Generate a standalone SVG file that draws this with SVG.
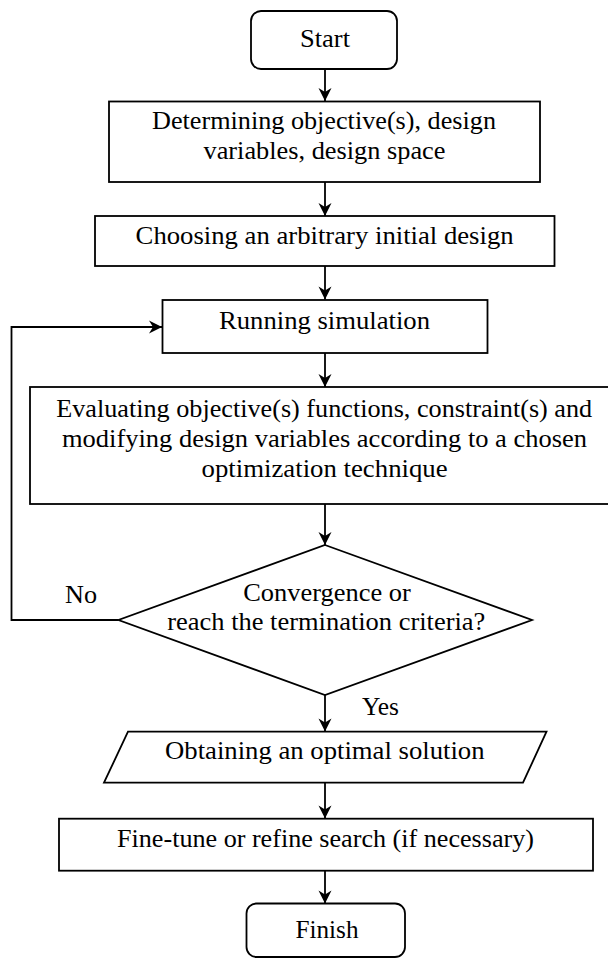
<svg xmlns="http://www.w3.org/2000/svg" width="608" height="958" viewBox="0 0 608 958">
<style>
.shape{fill:#fff;stroke:#000;stroke-width:1.8}
.edge{fill:none;stroke:#000;stroke-width:1.8}
.t{font-family:'Liberation Serif',serif;font-size:26px;fill:#000}
.c{text-anchor:middle}
</style>
<defs>
<marker id="arr" markerUnits="userSpaceOnUse" markerWidth="16" markerHeight="16" viewBox="-14 -8 16 16" refX="0" refY="0" orient="auto">
<path d="M-13,-6.5 L0,0 L-13,6.5 L-9,0 Z" fill="#000"/>
</marker>
</defs>
<rect width="608" height="958" fill="#fff"/>
<g id="connectors">
<line class="edge" x1="325" y1="69" x2="325" y2="101" marker-end="url(#arr)"/>
<line class="edge" x1="325" y1="182" x2="325" y2="216" marker-end="url(#arr)"/>
<line class="edge" x1="325" y1="266" x2="325" y2="299.5" marker-end="url(#arr)"/>
<line class="edge" x1="325" y1="353" x2="325" y2="387" marker-end="url(#arr)"/>
<line class="edge" x1="325" y1="504" x2="325" y2="545" marker-end="url(#arr)"/>
<line class="edge" x1="325" y1="695" x2="325" y2="731.5" marker-end="url(#arr)"/>
<line class="edge" x1="325" y1="782.5" x2="325" y2="818.5" marker-end="url(#arr)"/>
<line class="edge" x1="325" y1="871" x2="325" y2="903.5" marker-end="url(#arr)"/>
<polyline class="edge" points="118.5,620 11.5,620 11.5,327 162,327" marker-end="url(#arr)"/>
<text class="t" font-family="Liberation Serif, serif" x="65" y="603.3" textLength="32" lengthAdjust="spacingAndGlyphs">No</text>
<text class="t" font-family="Liberation Serif, serif" x="362" y="715" textLength="37" lengthAdjust="spacingAndGlyphs">Yes</text>
</g>
<g id="start">
<rect class="shape" x="251" y="11" width="146" height="58" rx="10"/>
<text class="t c" font-family="Liberation Serif, serif" x="325" y="47" textLength="50" lengthAdjust="spacingAndGlyphs">Start</text>
</g>
<g id="determine">
<rect class="shape" x="109" y="101.5" width="431" height="80.5"/>
<text class="t c" font-family="Liberation Serif, serif" x="324" y="129.3" textLength="344" lengthAdjust="spacingAndGlyphs">Determining objective(s), design</text>
<text class="t c" font-family="Liberation Serif, serif" x="324.5" y="159.3" textLength="242" lengthAdjust="spacingAndGlyphs">variables, design space</text>
</g>
<g id="choose">
<rect class="shape" x="95" y="216" width="459.5" height="50"/>
<text class="t c" font-family="Liberation Serif, serif" x="324.6" y="244.3" textLength="378" lengthAdjust="spacingAndGlyphs">Choosing an arbitrary initial design</text>
</g>
<g id="simulate">
<rect class="shape" x="162.5" y="300" width="325" height="53"/>
<text class="t c" font-family="Liberation Serif, serif" x="324.5" y="328.5" textLength="211" lengthAdjust="spacingAndGlyphs">Running simulation</text>
</g>
<g id="evaluate">
<rect class="shape" x="30" y="387" width="600" height="117"/>
<text class="t c" font-family="Liberation Serif, serif" x="324.2" y="417.3" textLength="536" lengthAdjust="spacingAndGlyphs">Evaluating objective(s) functions, constraint(s) and</text>
<text class="t c" font-family="Liberation Serif, serif" x="324.5" y="447.3" textLength="525" lengthAdjust="spacingAndGlyphs">modifying design variables according to a chosen</text>
<text class="t c" font-family="Liberation Serif, serif" x="324.6" y="476.7" textLength="246" lengthAdjust="spacingAndGlyphs">optimization technique</text>
</g>
<g id="decision">
<polygon class="shape" points="325,545 532,620 325,695 118.5,620"/>
<text class="t c" font-family="Liberation Serif, serif" x="327" y="600.7" textLength="167.5" lengthAdjust="spacingAndGlyphs">Convergence or</text>
<text class="t c" font-family="Liberation Serif, serif" x="326.3" y="630" textLength="318" lengthAdjust="spacingAndGlyphs">reach the termination criteria?</text>
</g>
<g id="obtain">
<polygon class="shape" points="128,731.7 546.5,731.7 523,782.7 104,782.7"/>
<text class="t c" font-family="Liberation Serif, serif" x="324.8" y="759" textLength="319.5" lengthAdjust="spacingAndGlyphs">Obtaining an optimal solution</text>
</g>
<g id="refine">
<rect class="shape" x="59" y="818.7" width="534" height="52"/>
<text class="t c" font-family="Liberation Serif, serif" x="325.5" y="846.7" textLength="417" lengthAdjust="spacingAndGlyphs">Fine-tune or refine search (if necessary)</text>
</g>
<g id="finish">
<rect class="shape" x="246.5" y="903.5" width="158.5" height="53.5" rx="10"/>
<text class="t c" font-family="Liberation Serif, serif" x="327" y="937.7" textLength="63" lengthAdjust="spacingAndGlyphs">Finish</text>
</g>
</svg>
